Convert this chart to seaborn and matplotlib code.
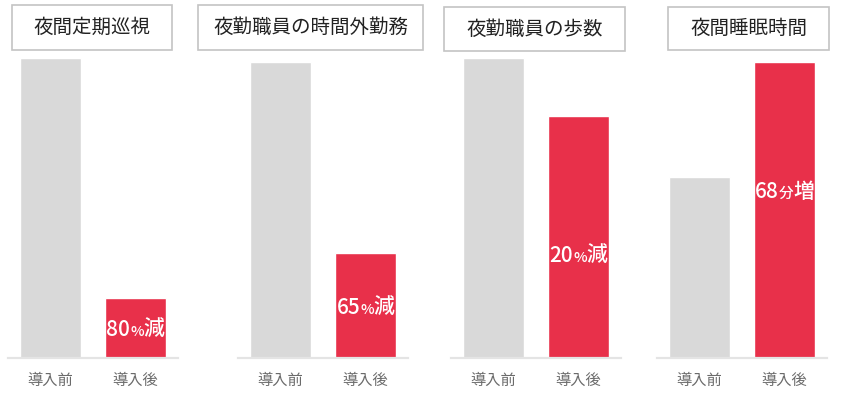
import matplotlib
matplotlib.use("Agg")
import matplotlib.pyplot as plt
from matplotlib.patches import Rectangle
from matplotlib.offsetbox import TextArea, HPacker, AnnotationBbox
import seaborn as sns

# data (relative heights, "before" of first chart = 100)
titles = ["夜間定期巡視", "夜勤職員の時間外勤務", "夜勤職員の歩数", "夜間睡眠時間"]
categories = ["導入前", "導入後"]
before_vals = [100, 98.7, 100, 60.3]
after_vals = [20, 35, 80.7, 98.7]
label_nums = ["80", "65", "20", "68"]
label_units = ["%", "%", "%", "分"]
label_words = ["減", "減", "減", "増"]

# layout in pixels (figure 850 x 395)
W, H = 850, 395
axes_left = [8, 238, 451, 657]
axes_width = 170
axes_top, axes_bottom = 58, 358
title_boxes = [(12, 5, 172, 50), (198, 5, 423, 50), (444, 7, 625, 51), (668, 7, 829, 50)]
label_frac = [0.47, 0.48, 0.42, 0.56]

GRAY = "#d9d9d9"
RED = "#e8304a"

sns.set_theme(style="white")
plt.rcParams["font.family"] = ["Noto Sans CJK JP", "DejaVu Sans"]

fig = plt.figure(figsize=(W / 100, H / 100), dpi=100)

for i in range(4):
    ax = fig.add_axes([axes_left[i] / W, 1 - axes_bottom / H,
                       axes_width / W, (axes_bottom - axes_top) / H])
    vals = [before_vals[i], after_vals[i]]
    sns.barplot(x=categories, y=vals, hue=categories, palette=[GRAY, RED],
                width=0.72, legend=False, ax=ax, saturation=1)
    ax.set_ylim(0, 100)
    ax.set_xlim(-0.5, 1.5)
    ax.set_yticks([])
    ax.set_ylabel("")
    ax.set_xlabel("")
    for s in ["left", "right", "top"]:
        ax.spines[s].set_visible(False)
    ax.spines["bottom"].set_color("#e4e4e4")
    ax.spines["bottom"].set_linewidth(1.6)
    ax.tick_params(axis="x", length=0, pad=10, labelsize=11, labelcolor="#6b6b6b")

    # value label inside the red bar, with a smaller unit glyph
    props = dict(color="white", fontweight="medium", family=["Noto Sans CJK JP", "DejaVu Sans"])
    parts = [TextArea(label_nums[i], textprops=dict(fontsize=15, **props)),
             TextArea(label_units[i], textprops=dict(fontsize=10.5, **props)),
             TextArea(label_words[i], textprops=dict(fontsize=15, **props))]
    box = HPacker(children=parts, align="baseline", pad=0, sep=0)
    ab = AnnotationBbox(box, (1, after_vals[i] * label_frac[i]), xycoords="data",
                        frameon=False, box_alignment=(0.5, 0.5))
    ax.add_artist(ab)

    # title box
    x0, y0, x1, y1 = title_boxes[i]
    fig.patches.append(Rectangle((x0 / W, 1 - y1 / H), (x1 - x0) / W, (y1 - y0) / H,
                                 transform=fig.transFigure, facecolor="white",
                                 edgecolor="#c4c4c4", linewidth=1.2))
    fig.text((x0 + x1) / 2 / W, 1 - (y0 + y1) / 2 / H, titles[i],
             ha="center", va="center", fontsize=14, color="#222222")

fig.savefig("out.png", dpi=100)
